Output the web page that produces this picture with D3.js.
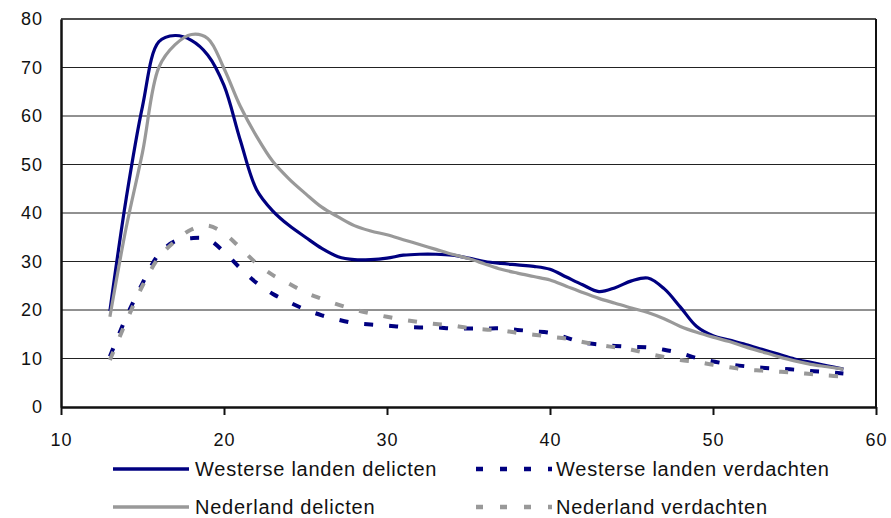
<!DOCTYPE html>
<html>
<head>
<meta charset="utf-8">
<script src="https://cdn.jsdelivr.net/npm/d3@7"></script>
<style>
  html, body { margin: 0; padding: 0; background: #fff; }
  svg { display: block; }
  text { font-family: "Liberation Sans", Arial, sans-serif; fill: #111; }
</style>
</head>
<body>
<svg id="chart" width="891" height="518"></svg>
<script>
// ---- data ----
const ages = [13,14,15,16,17,18,19,20,21,22,23,24,25,26,27,28,29,30,31,32,33,34,35,36,37,38,39,40,
              41,42,43,44,45,46,47,48,49,50,51,52,53,54,55,56,57,58];
const westerseDelicten = [19.8,43,62,75.3,76.6,75.6,72.6,66.3,55,44.8,40.4,37.4,35,32.7,31,30.4,30.4,30.7,31.3,31.5,31.5,31.3,30.7,30,29.6,29.3,29,28.4,
              26.8,25.2,23.8,24.6,26,26.6,24.4,20.6,16.6,14.7,13.8,12.9,11.9,10.9,9.9,9.2,8.5,7.8];
const westerseVerdachten = [10.4,18.5,25.5,31.5,34.2,34.8,34.6,32,28.6,25.6,23.3,21.6,20.1,18.9,18,17.3,17,16.8,16.5,16.4,16.4,16.2,16.2,16.2,16.2,15.9,15.6,15.3,
              14.3,13.3,12.9,12.6,12.4,12.3,11.8,11.1,10.1,9.4,8.8,8.4,8.1,7.9,7.7,7.4,7.2,6.9];
const nederlandDelicten = [18.6,37,52.5,70,74.7,76.8,76,69.8,62,55.8,50.6,47,44,41.2,39.2,37.4,36.3,35.5,34.5,33.5,32.5,31.5,30.6,29.5,28.4,27.6,26.9,26.2,
              24.9,23.6,22.4,21.4,20.4,19.5,18.2,16.6,15.4,14.4,13.5,12.4,11.4,10.4,9.5,8.8,8.3,7.8];
const nederlandVerdachten = [9.7,17.6,25,30.8,34.2,36.6,37.4,35.8,32.8,29.6,27.2,25.4,23.6,22.3,21.1,20.1,19.3,18.6,18,17.5,17.1,16.8,16.3,16,15.8,15.3,14.9,14.5,
              14.1,13.4,12.8,12.3,11.8,11,10.3,9.7,9.3,8.7,8.2,7.7,7.5,7.3,7.1,6.8,6.5,6.3];
const xTicks = [10,20,30,40,50,60];
const yTicks = [0,10,20,30,40,50,60,70,80];
const seriesNames = ["Westerse landen delicten","Westerse landen verdachten","Nederland delicten","Nederland verdachten"];

(function () {
// ---- layout ----
const svg = d3.select("#chart");
const mLeft = 61, mRight = 876, mTop = 19, mBottom = 407;
const x = d3.scaleLinear().domain([10,60]).range([mLeft,mRight]);
const y = d3.scaleLinear().domain([0,80]).range([mBottom,mTop]);

const navy = "#000080", grey = "#999999";
const series = [
  {name: seriesNames[0], values: westerseDelicten, color: navy, dash: null, width: 3.2},
  {name: seriesNames[1], values: westerseVerdachten, color: navy, dash: "9,16", width: 4},
  {name: seriesNames[2], values: nederlandDelicten, color: grey, dash: null, width: 3.2},
  {name: seriesNames[3], values: nederlandVerdachten, color: grey, dash: "9,16", width: 4}
];

// gridlines
svg.append("g").selectAll("line")
  .data(yTicks.filter(d => d > 0 && d < 80))
  .join("line")
  .attr("x1", mLeft).attr("x2", mRight)
  .attr("y1", d => y(d)).attr("y2", d => y(d))
  .attr("stroke", "#222").attr("stroke-width", 1);

// lines
const line = d3.line()
  .x((d, i) => x(ages[i]))
  .y(d => y(d))
  .curve(d3.curveCatmullRom.alpha(0.5));

const drawOrder = [series[1], series[3], series[0], series[2]];
svg.append("g").selectAll("path")
  .data(drawOrder)
  .join("path")
  .attr("d", s => line(s.values))
  .attr("fill", "none")
  .attr("stroke", s => s.color)
  .attr("stroke-width", s => s.width)
  .attr("stroke-dasharray", s => s.dash)
  .attr("stroke-linejoin", "round");

// frame
svg.append("line").attr("x1", mLeft).attr("x2", mRight).attr("y1", mTop).attr("y2", mTop)
  .attr("stroke", "#111").attr("stroke-width", 1.6);
svg.append("line").attr("x1", mRight).attr("x2", mRight).attr("y1", mTop).attr("y2", mBottom)
  .attr("stroke", "#111").attr("stroke-width", 2);

// x axis
const xAxis = d3.axisBottom(x).tickValues(xTicks).tickSize(8).tickSizeOuter(0).tickPadding(18)
  .tickFormat(d3.format("d"));
const gx = svg.append("g").attr("transform", `translate(0,${mBottom})`).call(xAxis);
gx.select(".domain").attr("stroke", "#111").attr("stroke-width", 2.5);
gx.selectAll(".tick line").attr("stroke", "#111").attr("stroke-width", 2);
gx.selectAll(".tick text").attr("font-size", 18).attr("letter-spacing", "1px")
  .attr("font-family", "Liberation Sans, Arial, sans-serif").attr("fill", "#111");

// y axis
const yAxis = d3.axisLeft(y).tickValues(yTicks).tickSize(0).tickSizeOuter(0).tickPadding(18)
  .tickFormat(d3.format("d"));
const gy = svg.append("g").attr("transform", `translate(${mLeft},0)`).call(yAxis);
gy.select(".domain").attr("stroke", "#111").attr("stroke-width", 2.5);
gy.selectAll(".tick text").attr("font-size", 18).attr("letter-spacing", "1px")
  .attr("font-family", "Liberation Sans, Arial, sans-serif").attr("fill", "#111");

// legend
const legendPos = [
  {lx: 113, tx: 195, cy: 469, dashLeg: null},
  {lx: 476, tx: 556, cy: 469, dashLeg: "7,17"},
  {lx: 113, tx: 195, cy: 507, dashLeg: null},
  {lx: 476, tx: 556, cy: 507, dashLeg: "7,17"}
];
const leg = svg.append("g").selectAll("g").data(series).join("g");
leg.append("line")
  .attr("x1", (d, i) => legendPos[i].lx)
  .attr("x2", (d, i) => legendPos[i].lx + 76)
  .attr("y1", (d, i) => legendPos[i].cy)
  .attr("y2", (d, i) => legendPos[i].cy)
  .attr("stroke", d => d.color)
  .attr("stroke-width", d => d.dash ? 4.5 : 3.5)
  .attr("stroke-dasharray", (d, i) => legendPos[i].dashLeg);
leg.append("text")
  .attr("x", (d, i) => legendPos[i].tx)
  .attr("y", (d, i) => legendPos[i].cy + 7)
  .attr("font-size", 20)
  .attr("letter-spacing", "0.75px")
  .text(d => d.name);
})();
</script>
</body>
</html>
